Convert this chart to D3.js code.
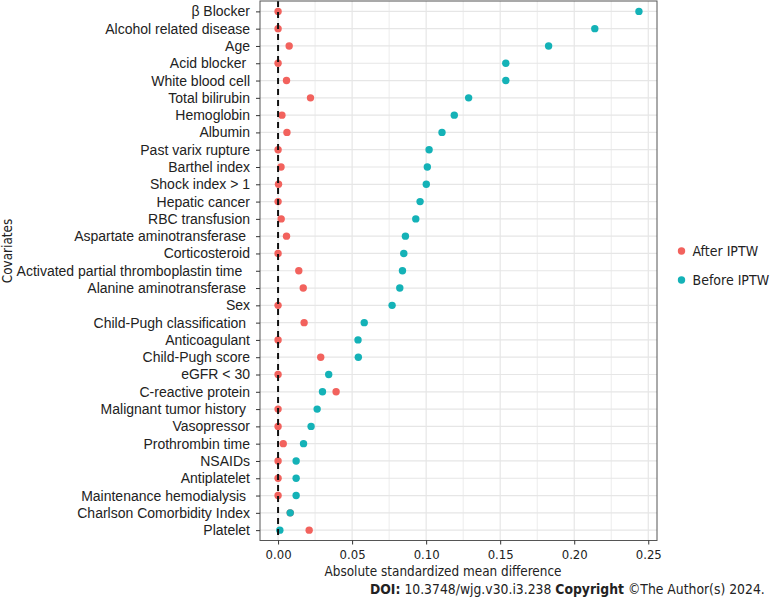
<!DOCTYPE html>
<html>
<head>
<meta charset="utf-8">
<script src="https://cdn.jsdelivr.net/npm/d3@7"></script>
<style>
  body { margin: 0; background: #fff; }
  .cat text { font-family: "Liberation Sans", Arial, sans-serif; font-size: 14px; fill: #222; white-space: pre; }
  .xax text { font-family: "DejaVu Sans Condensed", sans-serif; font-size: 13px; fill: #222; }
  .ttl { font-family: "DejaVu Sans Condensed", sans-serif; font-size: 13.4px; fill: #222; }
  .src { font-family: "DejaVu Sans Condensed", sans-serif; font-size: 13.8px; fill: #222; }
  .leg { font-family: "DejaVu Sans Condensed", sans-serif; font-size: 14px; fill: #222; }
</style>
</head>
<body>
<div class="chart"></div>
<script>
// covariates, top to bottom
const covariates = [
  "β Blocker", "Alcohol related disease", "Age", "Acid blocker ", "White blood cell",
  "Total bilirubin", "Hemoglobin", "Albumin", "Past varix rupture", "Barthel index",
  "Shock index > 1", "Hepatic cancer", "RBC transfusion", "Aspartate aminotransferase ",
  "Corticosteroid", "Activated partial thromboplastin time  ", "Alanine aminotransferase ",
  "Sex", "Child-Pugh classification ", "Anticoagulant", "Child-Pugh score", "eGFR < 30",
  "C-reactive protein", "Malignant tumor history ", "Vasopressor", "Prothrombin time",
  "NSAIDs", "Antiplatelet", "Maintenance hemodialysis ", "Charlson Comorbidity Index", "Platelet"
];

const beforeIPTW = [0.2437, 0.2139, 0.1827, 0.1538, 0.1538, 0.1287, 0.1190, 0.1107, 0.1020, 0.1008,
  0.1001, 0.0959, 0.0930, 0.0860, 0.0849, 0.0840, 0.0822, 0.0770, 0.0582, 0.0540,
  0.0542, 0.0342, 0.0300, 0.0264, 0.0223, 0.0172, 0.0122, 0.0122, 0.0122, 0.0082, 0.0012];

const afterIPTW = [0.0000, 0.0000, 0.0075, 0.0000, 0.0057, 0.0219, 0.0026, 0.0060, 0.0000, 0.0020,
  0.0003, 0.0000, 0.0021, 0.0057, 0.0000, 0.0140, 0.0170, 0.0000, 0.0176, 0.0000,
  0.0288, 0.0000, 0.0392, 0.0000, 0.0000, 0.0035, 0.0000, 0.0000, 0.0000, 0.0082, 0.0210];

const xTicks = [0, 0.05, 0.10, 0.15, 0.20, 0.25];
const xMinor = [0.025, 0.075, 0.125, 0.175, 0.225];

const groups = ["After IPTW", "Before IPTW"];
const colors = ["#F2625D", "#14B2B7"];

const svg = d3.select(".chart")
  .append("svg")
  .attr("width", 772)
  .attr("height", 598);

const panel = { left: 260, right: 657, top: 1, bottom: 540.5 };

const xScale = d3.scaleLinear()
  .domain([-0.0122, 0.2559])
  .range([panel.left, panel.right]);

const yScale = d3.scalePoint()
  .domain(covariates)
  .range([panel.top, panel.bottom])
  .padding(0.6);

// grid
const grid = svg.append("g");
grid.selectAll("line.minor")
  .data(xMinor)
  .join("line")
  .attr("x1", d => xScale(d)).attr("x2", d => xScale(d))
  .attr("y1", panel.top).attr("y2", panel.bottom)
  .attr("stroke", "#ececec").attr("stroke-width", 1);

grid.selectAll("line.major")
  .data(xTicks)
  .join("line")
  .attr("x1", d => xScale(d)).attr("x2", d => xScale(d))
  .attr("y1", panel.top).attr("y2", panel.bottom)
  .attr("stroke", "#e6e6e6").attr("stroke-width", 1.2);

grid.selectAll("line.h")
  .data(covariates)
  .join("line")
  .attr("x1", panel.left).attr("x2", panel.right)
  .attr("y1", d => yScale(d)).attr("y2", d => yScale(d))
  .attr("stroke", "#e6e6e6").attr("stroke-width", 1.2);

// points
const rows = covariates.map((c, i) => ({ c, after: afterIPTW[i], before: beforeIPTW[i] }));

svg.append("g").selectAll("circle")
  .data(rows)
  .join("circle")
  .attr("cx", d => xScale(d.after))
  .attr("cy", d => yScale(d.c))
  .attr("r", 3.7)
  .attr("fill", colors[0]);

svg.append("g").selectAll("circle")
  .data(rows)
  .join("circle")
  .attr("cx", d => xScale(d.before))
  .attr("cy", d => yScale(d.c))
  .attr("r", 3.7)
  .attr("fill", colors[1]);

// zero line
svg.append("line")
  .attr("x1", xScale(0)).attr("x2", xScale(0))
  .attr("y1", panel.top).attr("y2", panel.bottom)
  .attr("stroke", "#111")
  .attr("stroke-width", 2)
  .attr("stroke-dasharray", "6,5");

// border
svg.append("rect")
  .attr("x", panel.left).attr("y", panel.top)
  .attr("width", panel.right - panel.left)
  .attr("height", panel.bottom - panel.top)
  .attr("fill", "none")
  .attr("stroke", "#555")
  .attr("stroke-width", 1);

// axes
const yAxis = svg.append("g")
  .attr("class", "cat")
  .attr("transform", `translate(${panel.left},0)`)
  .call(d3.axisLeft(yScale).tickSize(4).tickPadding(6));
yAxis.select(".domain").remove();
yAxis.selectAll("line").attr("stroke", "#333");

const xAxis = svg.append("g")
  .attr("class", "xax")
  .attr("transform", `translate(0,${panel.bottom})`)
  .call(d3.axisBottom(xScale).tickValues(xTicks).tickFormat(d3.format(".2f")).tickSize(4).tickPadding(5));
xAxis.select(".domain").remove();
xAxis.selectAll("line").attr("stroke", "#333");

// titles
svg.append("text")
  .attr("class", "ttl")
  .attr("x", 443).attr("y", 576)
  .attr("text-anchor", "middle")
  .text("Absolute standardized mean difference");

svg.append("text")
  .attr("class", "ttl")
  .attr("transform", "translate(12,251) rotate(-90)")
  .attr("text-anchor", "middle")
  .text("Covariates");

// legend
const legend = svg.append("g")
  .selectAll("g")
  .data(groups)
  .join("g")
  .attr("transform", (d, i) => `translate(681.5,${251 + i * 29})`);

legend.append("circle")
  .attr("r", 3.7)
  .attr("fill", (d, i) => colors[i]);

legend.append("text")
  .attr("class", "leg")
  .attr("x", 11)
  .attr("dy", "0.35em")
  .text(d => d);

// source line
const src = svg.append("text")
  .attr("class", "src")
  .attr("x", 370).attr("y", 594);
src.append("tspan").attr("font-weight", "bold").text("DOI:");
src.append("tspan").text(" 10.3748/wjg.v30.i3.238 ");
src.append("tspan").attr("font-weight", "bold").text("Copyright");
src.append("tspan").text(" ©The Author(s) 2024.");
</script>
</body>
</html>
